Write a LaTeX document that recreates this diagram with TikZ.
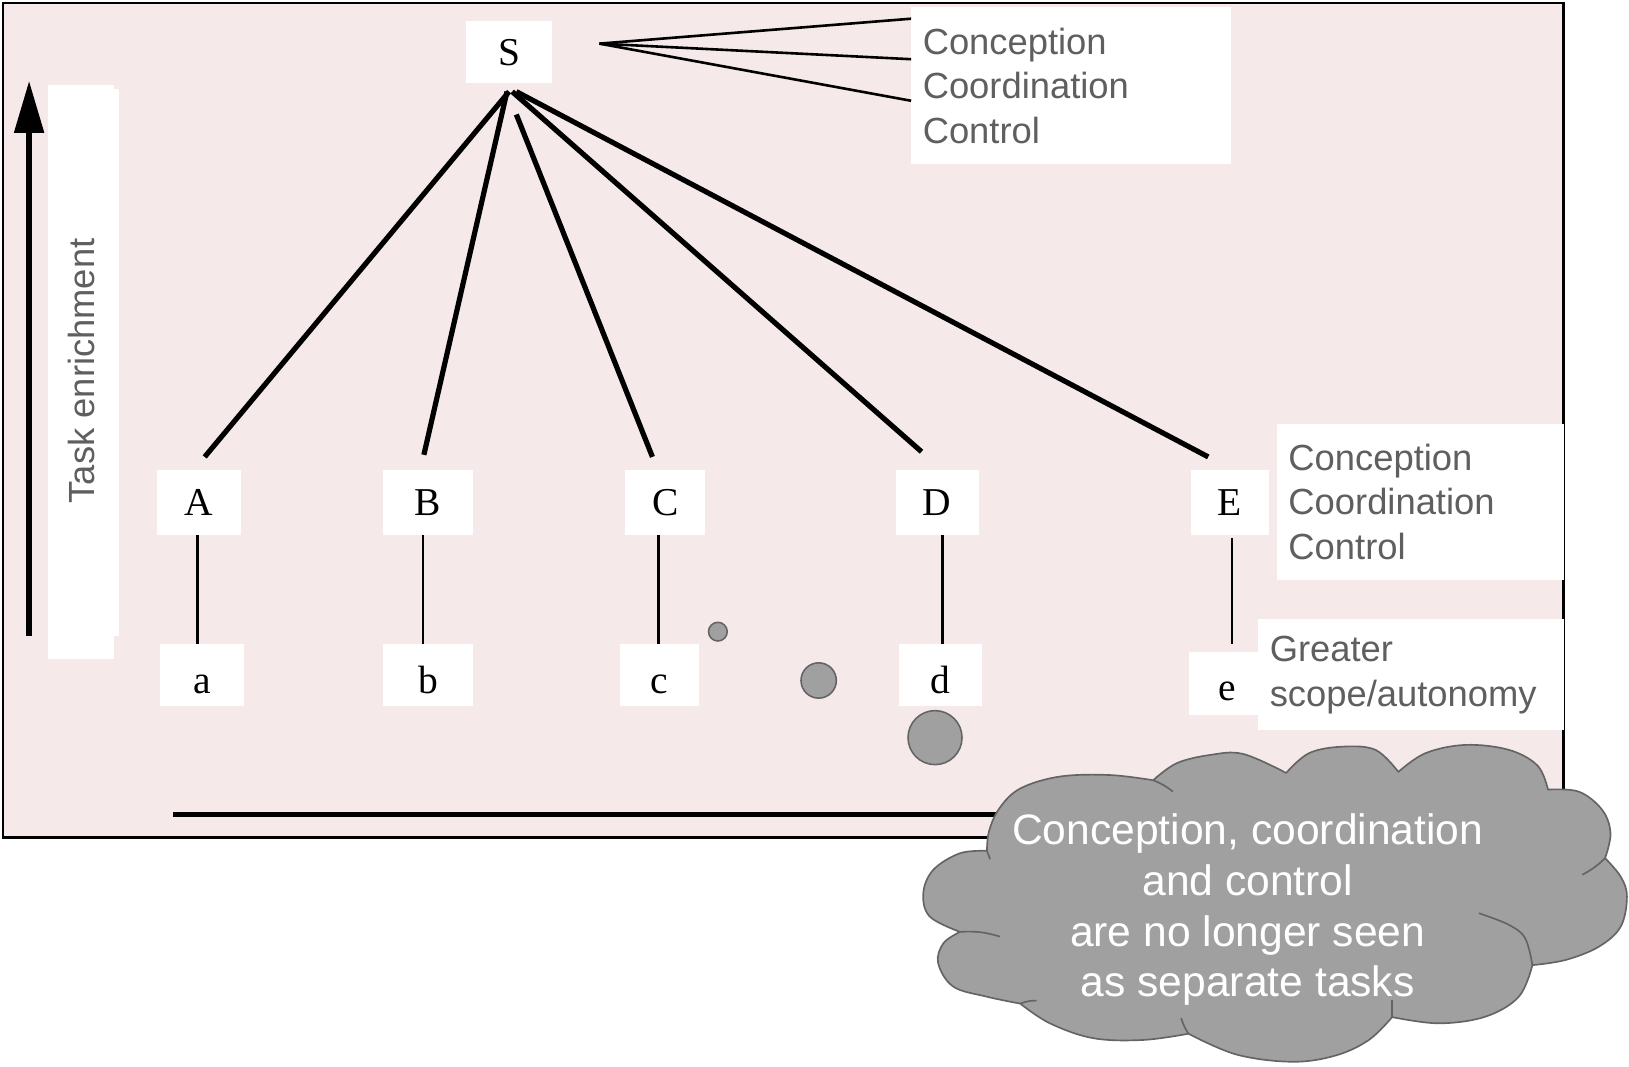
\documentclass[tikz,border=0pt]{standalone}
\usepackage{fontspec}
\setmainfont{Liberation Serif}
\newfontfamily\lsans{Liberation Sans}
\usetikzlibrary{arrows.meta}
\definecolor{bgpink}{HTML}{F5E9E9}
\definecolor{txtgray}{HTML}{5F5F5F}
\definecolor{blobgray}{HTML}{A0A0A0}
\definecolor{blobedge}{HTML}{646464}
\begin{document}
\begin{tikzpicture}[x=1pt,y=-1pt,
  letterbox/.style={fill=white, inner sep=0pt, text height=26pt, text depth=0pt,
                    font=\fontsize{38}{44}\selectfont},
  lowbox/.style={letterbox, text height=36pt},
  labelbox/.style={fill=white, inner sep=0pt, inner xsep=11pt, align=left, text=txtgray,
                   font=\lsans\fontsize{35}{43}\selectfont, anchor=west},
  mainlink/.style={line width=5pt},
  thinlink/.style={line width=2.5pt},
  blob/.style={circle, fill=blobgray, draw=blobedge, line width=1.5pt, inner sep=0pt},
  cloudline/.style={draw=blobedge, line width=1.6pt},
]
\useasboundingbox (0,0) rectangle (1568,1027);

% frame
\draw[fill=bgpink, line width=2.5pt] (3,3) rectangle (1505,806);

% bottom axis line
\coordinate (axl) at (167,784);
\coordinate (axr) at (1000,784);
\draw[line width=5pt] (axl) -- (axr);

% vertical arrow
\coordinate (arrb) at (28,612);
\coordinate (arrt) at (28,78);
\draw[line width=5pt, -{Triangle[length=50pt,width=28pt]}] (arrb) -- (arrt);

% task enrichment label
\fill[white] (104,86) rectangle (115,612);
\node[fill=white, minimum width=64pt, minimum height=552pt, inner sep=0pt] (task) at (78,358) {};
\node[rotate=90, text=txtgray, font=\lsans\fontsize{35}{43}\selectfont] (tasktext) at (78,357) {Task enrichment};

% top label
\node[labelbox, text width=286pt, minimum height=151pt] (lab1) at (877,82.5)
  {Conception\\Coordination\\Control};
% right label
\node[labelbox, text width=254pt, minimum height=150pt] (lab2) at (1229,483)
  {Conception\\Coordination\\Control};

% S
\node[letterbox, minimum width=82pt, minimum height=60pt] (S) at (490,50) {S};

% fan to top label
\coordinate (fan) at (577,42);
\draw[thinlink] (fan) -- ([yshift=64.5pt]lab1.west);
\draw[thinlink] (fan) -- ([yshift=25.5pt]lab1.west);
\draw[thinlink] (fan) -- ([yshift=-14.5pt]lab1.west);

% upper boxes
\node[letterbox, minimum width=81pt, minimum height=63pt] (A) at (191.5,483.5) {A};
\node[letterbox, minimum width=86pt, minimum height=63pt] (B) at (412,483.5) {B};
\node[letterbox, minimum width=77pt, minimum height=63pt] (C) at (640.5,483.5) {C};
\node[letterbox, minimum width=80pt, minimum height=63pt] (D) at (902,483.5) {D};
\node[letterbox, minimum width=75pt, minimum height=63pt] (E) at (1183.5,483.5) {E};

% lower boxes
\node[lowbox, minimum width=81pt, minimum height=60pt] (a) at (194.5,650) {a};
\node[lowbox, minimum width=86pt, minimum height=60pt] (b) at (412,650) {b};
\node[lowbox, minimum width=76pt, minimum height=60pt] (c) at (635,650) {c};
\node[lowbox, minimum width=80pt, minimum height=60pt] (d) at (905,650) {d};

% greater label and e
\node[labelbox, text width=272pt, minimum height=107pt] (lab3) at (1211,649.5)
  {Greater\\scope/autonomy};
\node[letterbox, text height=32pt, minimum width=74pt, minimum height=60pt] (e) at (1181,658) {e};

% main links from S
\draw[mainlink] ([yshift=-8pt]S.south) -- ([xshift=5.5pt,yshift=12pt]A.north);
\draw[mainlink] ([xshift=-2pt,yshift=-8pt]S.south) -- ([xshift=-4pt,yshift=14pt]B.north);
\draw[mainlink] ([xshift=7pt,yshift=-30pt]S.south) -- ([xshift=-12.5pt,yshift=12pt]C.north);
\draw[mainlink] ([xshift=3pt,yshift=-8pt]S.south) -- ([xshift=-15pt,yshift=17pt]D.north);
\draw[mainlink] ([xshift=7pt,yshift=-8pt]S.south) -- ([xshift=-20.5pt,yshift=12pt]E.north);

% vertical links
\draw[thinlink] ([xshift=-1.5pt]A.south) -- ([xshift=-4.5pt]a.north);
\draw[thinlink] ([xshift=-5pt]B.south) -- ([xshift=-5pt]b.north);
\draw[thinlink] ([xshift=-6.5pt]C.south) -- ([xshift=-1pt]c.north);
\draw[thinlink] ([xshift=5pt]D.south) -- ([xshift=2pt]d.north);
\draw[thinlink] ([xshift=2.5pt,yshift=-3pt]E.south) -- ([xshift=5pt,yshift=8pt]e.north);

% circles
\node[blob, minimum size=18pt] (c1) at (691,608) {};
\node[blob, minimum size=34pt] (c2) at (788,655) {};
\node[blob, minimum size=52pt] (c3) at (900,710) {};

% cloud
\path[fill=blobgray, cloudline, line join=round]
  (950,819)
  -- plot[smooth, tension=0.6] coordinates {(950,819) (952,800) (962,778) (982,759) (1020,747.5) (1068,746) (1110,751)}
  -- plot[smooth, tension=0.6] coordinates {(1110,751) (1132.5,734.7) (1164.6,726.7) (1196.5,725.7) (1238,744)}
  -- plot[smooth, tension=0.6] coordinates {(1238,744) (1259.9,725) (1291.9,718.7) (1324,721.8) (1346,743)}
  -- plot[smooth, tension=0.6] coordinates {(1346,743) (1372,725) (1410.7,717) (1452.4,721.8) (1480,737) (1490,760)}
  -- plot[smooth, tension=0.6] coordinates {(1490,760) (1519.7,762) (1542.2,779.6) (1550.2,802) (1545,826)}
  -- plot[smooth, tension=0.6] coordinates {(1545,826) (1560,843.8) (1566,863) (1560,891.9) (1539,911.2) (1507,924) (1475,929)}
  -- plot[smooth, tension=0.6] coordinates {(1475,929) (1462,959.3) (1430,978.5) (1385,985) (1340,979)}
  -- plot[smooth, tension=0.6] coordinates {(1340,979) (1317.6,1001) (1285.5,1016) (1243.8,1022) (1190,1015) (1144,995)}
  -- plot[smooth, tension=0.6] coordinates {(1144,995) (1100.4,1001) (1052.3,999.3) (1010.6,985) (982,966)}
  -- plot[smooth, tension=0.6] coordinates {(982,966) (949.6,959.3) (917.5,949.6) (903,927) (908,908) (924,897)}
  -- plot[smooth, tension=0.6] coordinates {(924,897) (895,882.3) (888.7,859.8) (898.3,837.3) (924,821.3) (950,819)}
  -- cycle;
% inner puff edges
\draw[cloudline] (1110,751) to[bend left=8] (1129,762);
\draw[cloudline] (950,819) -- (953,827);
\draw[cloudline] (924,897) to[bend left=10] (962.5,901.5);
\draw[cloudline] (982,966) to[bend left=10] (997.8,963.1);
\draw[cloudline] (1144,995) to[bend left=8] (1137,980);
\draw[cloudline] (1545,826) to[bend left=8] (1523,842);
\draw[cloudline] plot[smooth, tension=0.6] coordinates {(1423.5,879) (1452,890) (1468,903) (1475,929)};
\draw[cloudline] (1340,979) -- (1340,962.5);

\node[text=white, align=center, font=\lsans\fontsize{41}{49}\selectfont] (cloudtext) at (1201,875.5)
  {Conception, coordination\\and control\\are no longer seen\\as separate tasks};
\end{tikzpicture}
\end{document}
